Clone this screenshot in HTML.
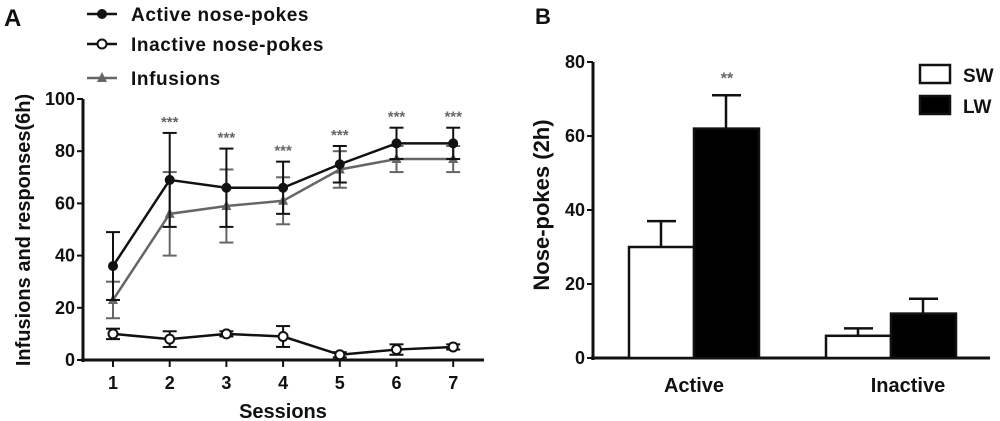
<!DOCTYPE html>
<html><head><meta charset="utf-8"><style>
body{margin:0;background:#fff}
svg{display:block;font-family:"Liberation Sans",sans-serif;font-weight:bold}
</style></head><body>
<svg id="c" width="1000" height="421" viewBox="0 0 1000 421"></svg>
<script>
const sessions=[1,2,3,4,5,6,7];
const activeVals=[36,69,66,66,75,83,83];
const activeErr=[13,18,15,10,7,6,6];
const infVals=[23,56,59,61,73,77,77];
const infErr=[7,16,14,9,7,5,5];
const inactVals=[10,8,10,9,2,4,5];
const inactErr=[2,3,1,4,1,2,1];
const aTicks=[0,20,40,60,80,100];
const stars=["","***","***","***","***","***","***"];
const bCats=["Active","Inactive"];
const swVals=[30,6];const swErr=[7,2];
const lwVals=[62,12];const lwErr=[9,4];
const bTicks=[0,20,40,60,80];

const svg=document.getElementById('c');const NS='http://www.w3.org/2000/svg';
function el(t,a,name,p){const e=document.createElementNS(NS,t);for(const k in a)e.setAttribute(k,a[k]);


(p||svg).appendChild(e);return e;}
function tx(x,y,s,size,name,anchor,extra){const e=el('text',Object.assign({x,y,'font-size':size,'text-anchor':anchor||'start',fill:'#111'},extra||{}),name);e.textContent=s;return e;}

// Panel A
const ax=x=>113+(x-1)*56.7, ay=v=>360-v*2.61;
tx(4,26,"A",24,"panel-a-label");
el('line',{x1:83,y1:ay(100),x2:83,y2:362,stroke:'#111','stroke-width':3},'a-y-axis');
el('line',{x1:81,y1:360,x2:484,y2:360,stroke:'#111','stroke-width':3},'a-x-axis');
aTicks.forEach(t=>{el('line',{x1:77,y1:ay(t),x2:83,y2:ay(t),stroke:'#111','stroke-width':2},'a-y-tick');
tx(75,ay(t)+6,String(t),18,'a-y-tick-label','end');});
sessions.forEach(s=>{el('line',{x1:ax(s),y1:360,x2:ax(s),y2:367,stroke:'#111','stroke-width':2},'a-x-tick');
tx(ax(s),389,String(s),18,'a-x-tick-label','middle');});
tx(283,418,"Sessions",20,'a-x-axis-title','middle');
tx(0,0,"Infusions and responses(6h)",20,'a-y-axis-title','middle',{transform:'translate(30,230) rotate(-90)'});
function series(vals,errs,col,name,marker,down){
 vals.forEach((v,i)=>{const x=ax(sessions[i]);const lo=ay(v-errs[i]),hi=ay(v+errs[i]);
 el('line',{x1:x,y1:hi,x2:x,y2:lo,stroke:col,'stroke-width':2},name+'-error-bar');
 [hi,lo].forEach(y=>el('line',{x1:x-7,y1:y,x2:x+7,y2:y,stroke:col,'stroke-width':2},name+'-error-cap'));});
 el('polyline',{points:vals.map((v,i)=>ax(sessions[i])+','+ay(v)).join(' '),fill:'none',stroke:col,'stroke-width':2.5},name+'-line');
 vals.forEach((v,i)=>{const x=ax(sessions[i]),y=ay(v);
 if(marker==='dot')el('circle',{cx:x,cy:y,r:5,fill:col},name+'-point');
 else if(marker==='open')el('circle',{cx:x,cy:y,r:4.5,fill:'#fff',stroke:col,'stroke-width':2},name+'-point');
 else el('polygon',{points:`${x},${y-6} ${x-5},${y+4} ${x+5},${y+4}`,fill:col},name+'-point');});
}
series(infVals,infErr,'#666','infusions','tri');
series(activeVals,activeErr,'#111','active','dot');
series(inactVals,inactErr,'#111','inactive','open');
stars.forEach((s,i)=>{if(s)tx(ax(sessions[i]),ay(activeVals[i]+activeErr[i])-6,s,15,'a-significance','middle',{fill:'#666'});});
[[14,'Active nose-pokes','dot'],[44,'Inactive nose-pokes','open'],[78,'Infusions','tri']].forEach(([y,l,m])=>{
 const col=m==='tri'?'#666':'#111';
 el('line',{x1:87,y1:y,x2:117,y2:y,stroke:col,'stroke-width':2.5},'legend-line');
 if(m==='dot')el('circle',{cx:102,cy:y,r:5,fill:col},'legend-marker');
 else if(m==='open')el('circle',{cx:102,cy:y,r:4.5,fill:'#fff',stroke:col,'stroke-width':2},'legend-marker');
 else el('polygon',{points:`102,${y-6} 97,${y+4} 107,${y+4}`,fill:col},'legend-marker');
 tx(131,y+7,l,19,'legend-label',null,{'letter-spacing':'0.6'});});

// Panel B
const by=v=>358-v*3.7;
tx(535,24,"B",22,"panel-b-label");
el('line',{x1:593,y1:by(80),x2:593,y2:360,stroke:'#111','stroke-width':3},'b-y-axis');
el('line',{x1:591,y1:358,x2:990,y2:358,stroke:'#111','stroke-width':3},'b-x-axis');
bTicks.forEach(t=>{el('line',{x1:587,y1:by(t),x2:593,y2:by(t),stroke:'#111','stroke-width':2},'b-y-tick');
tx(585,by(t)+6,String(t),18,'b-y-tick-label','end');});
tx(0,0,"Nose-pokes (2h)",22,'b-y-axis-title','middle',{transform:'translate(549,205) rotate(-90)'});
const groupX=[694,891];
bCats.forEach((c,i)=>{
 tx(groupX[i]+(i?17:0),392,c,20,'b-x-tick-label','middle');
 [[swVals,swErr,'#fff',-65,'sw'],[lwVals,lwErr,'#000',0,'lw']].forEach(([v,e,f,off,n])=>{
  const x=groupX[i]+off,y=by(v[i]);
  el('line',{x1:x+32,y1:y,x2:x+32,y2:by(v[i]+e[i]),stroke:'#111','stroke-width':2.5},n+'-error-bar');
  el('line',{x1:x+18,y1:by(v[i]+e[i]),x2:x+47,y2:by(v[i]+e[i]),stroke:'#111','stroke-width':2.5},n+'-error-cap');
  el('rect',{x:x,y,width:65,height:358-y,fill:f,stroke:'#111','stroke-width':2.5},n+'-bar-'+c.toLowerCase());
 });});
tx(727,by(lwVals[0]+lwErr[0])-12,"**",16,'b-significance','middle',{fill:'#666'});
el('rect',{x:920,y:65,width:30,height:18,fill:'#fff',stroke:'#111','stroke-width':2.5},'legend-sw-swatch');
el('rect',{x:920,y:96,width:30,height:18,fill:'#000',stroke:'#111','stroke-width':2.5},'legend-lw-swatch');
tx(963,82,"SW",19,'legend-sw-label');tx(963,113,"LW",19,'legend-lw-label');
</script>
</body></html>
